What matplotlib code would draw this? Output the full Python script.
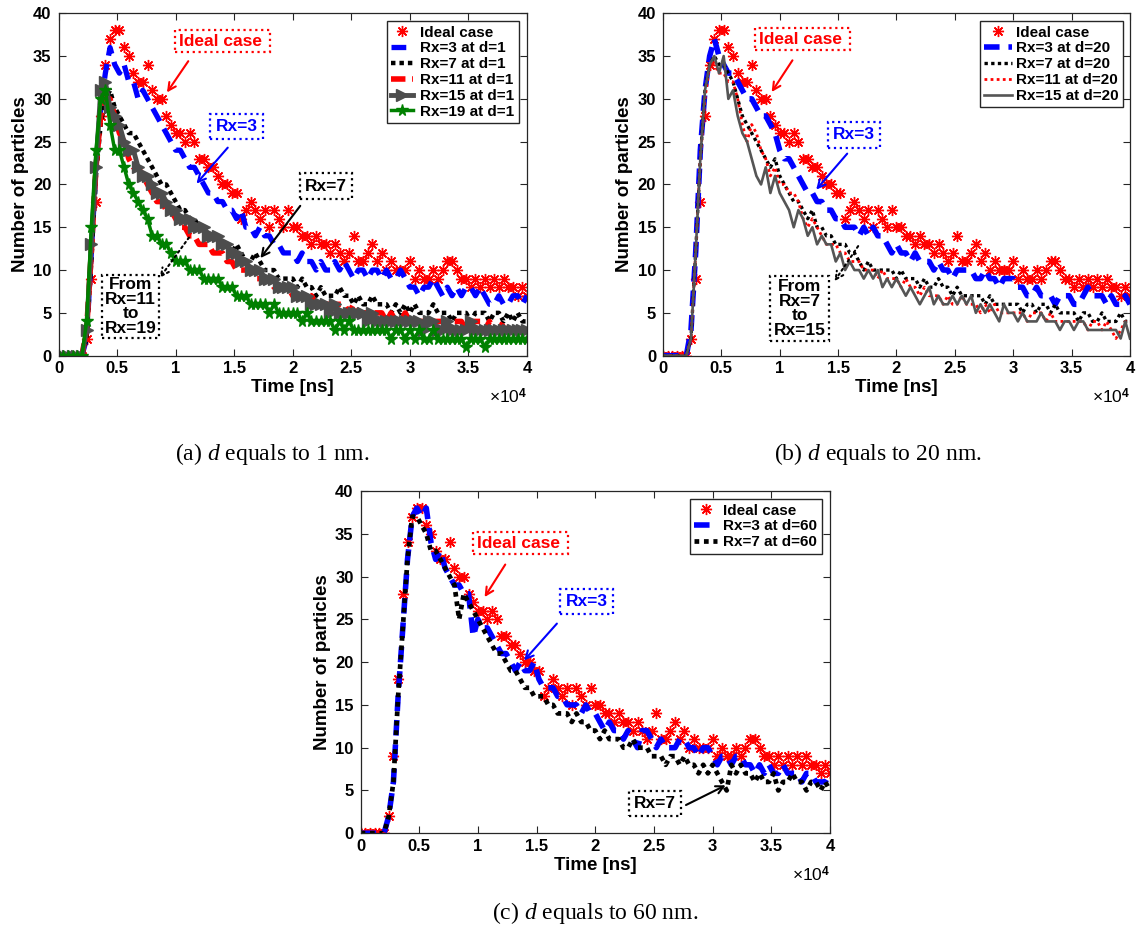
import numpy as np
import matplotlib.pyplot as plt

plt.rcParams['font.family'] = 'Liberation Sans'
plt.rcParams['mathtext.fontset'] = 'custom'
plt.rcParams['mathtext.rm'] = 'Liberation Sans:bold'
plt.rcParams['mathtext.bf'] = 'Liberation Sans:bold'
plt.rcParams['mathtext.it'] = 'Liberation Serif:italic'

# sampling instants (ns)
time_ns = np.arange(0, 40001, 400)

ideal = [0, 0, 0, 0, 0, 0, 2, 9, 18, 28,
         34, 37, 38, 38, 36, 35, 33, 32, 32, 34,
         31, 30, 30, 28, 27, 26, 26, 25, 26, 25,
         23, 23, 22, 22, 21, 20, 20, 19, 19, 16,
         17, 18, 17, 16, 17, 15, 17, 16, 15, 17,
         15, 15, 14, 14, 13, 14, 13, 13, 12, 13,
         12, 11, 12, 14, 11, 11, 12, 13, 11, 12,
         10, 11, 10, 10, 10, 11, 9, 10, 9, 9,
         10, 9, 10, 11, 11, 10, 9, 9, 8, 9,
         8, 9, 8, 9, 8, 9, 8, 8, 7, 8,
         7]

# d = 1 nm
d1_rx3 = [0, 0, 0, 0, 0, 0, 2, 12, 22, 29,
          33, 36, 34, 33, 34, 32, 32, 30, 31, 30,
          29, 28, 27, 26, 25, 24, 24, 23, 22, 22,
          21, 20, 19, 19, 18, 18, 17, 17, 16, 17,
          15, 15, 14, 15, 14, 14, 13, 13, 12, 12,
          12, 11, 12, 11, 11, 10, 11, 10, 10, 11,
          10, 11, 10, 9, 10, 10, 9, 10, 10, 9,
          10, 9, 9, 10, 9, 8, 8, 7, 8, 8,
          9, 8, 7, 8, 7, 8, 7, 8, 8, 7,
          8, 7, 6, 6, 7, 6, 6, 7, 7, 6,
          7]
d1_rx7 = [0, 0, 0, 0, 0, 0, 2, 11, 21, 27,
          30, 31, 29, 28, 27, 26, 26, 25, 24, 23,
          22, 21, 20, 20, 19, 18, 17, 17, 16, 16,
          15, 15, 14, 14, 14, 13, 13, 12, 13, 12,
          11, 11, 12, 11, 10, 10, 10, 9, 9, 9,
          9, 8, 9, 8, 8, 7, 8, 7, 7, 7,
          8, 7, 7, 6, 7, 6, 6, 7, 6, 6,
          6, 5, 6, 5, 6, 5, 6, 5, 5, 5,
          6, 5, 5, 5, 4, 5, 5, 5, 4, 5,
          5, 5, 4, 5, 5, 4, 5, 4, 5, 4,
          4]
d1_rx11 = [0, 0, 0, 0, 0, 0, 3, 12, 22, 28,
           30, 30, 28, 26, 25, 23, 22, 22, 21, 20,
           19, 18, 18, 17, 17, 16, 15, 15, 14, 14,
           13, 13, 13, 12, 12, 12, 11, 11, 10, 10,
           10, 10, 9, 9, 9, 9, 8, 8, 8, 8,
           7, 7, 7, 7, 7, 6, 6, 6, 6, 6,
           6, 6, 5, 6, 5, 5, 5, 5, 5, 5,
           4, 5, 4, 4, 5, 4, 4, 4, 4, 4,
           4, 4, 4, 4, 4, 4, 4, 3, 4, 4,
           4, 3, 4, 3, 3, 4, 3, 3, 3, 3,
           3]
d1_rx15 = [0, 0, 0, 0, 0, 0, 3, 13, 22, 31,
           32, 29, 28, 27, 25, 24, 24, 22, 21, 21,
           20, 19, 19, 18, 17, 17, 16, 16, 16, 15,
           15, 15, 14, 14, 14, 13, 13, 12, 12, 11,
           11, 10, 10, 10, 9, 9, 9, 8, 8, 8,
           8, 7, 7, 7, 6, 6, 6, 6, 5, 6,
           5, 5, 5, 5, 5, 5, 4, 5, 4, 4,
           4, 4, 4, 4, 4, 4, 4, 4, 3, 4,
           4, 3, 3, 4, 3, 3, 3, 3, 4, 3,
           3, 3, 3, 3, 3, 3, 3, 3, 3, 3,
           3]
d1_rx19 = [0, 0, 0, 0, 0, 0, 4, 15, 24, 30,
           31, 27, 24, 24, 22, 20, 19, 18, 17, 16,
           14, 14, 13, 13, 12, 11, 11, 11, 10, 10,
           10, 9, 9, 9, 9, 8, 8, 8, 7, 7,
           7, 6, 6, 6, 6, 5, 6, 5, 5, 5,
           5, 5, 4, 5, 4, 4, 4, 4, 4, 3,
           4, 3, 4, 3, 3, 3, 3, 3, 3, 3,
           3, 2, 3, 3, 2, 3, 2, 3, 2, 2,
           3, 2, 2, 2, 2, 2, 2, 1, 2, 2,
           2, 1, 2, 2, 2, 2, 2, 2, 2, 2,
           2]

# d = 20 nm
d20_rx3 = [0, 0, 0, 0, 0, 0, 3, 12, 24, 31,
           35, 37, 35, 34, 33, 33, 32, 31, 30, 30,
           29, 28, 28, 27, 26, 24, 23, 23, 22, 21,
           20, 19, 19, 18, 18, 17, 17, 16, 16, 15,
           15, 15, 14, 15, 14, 15, 14, 14, 13, 12,
           13, 12, 12, 11, 12, 11, 11, 11, 10, 11,
           10, 10, 9, 10, 10, 10, 10, 9, 9, 10,
           9, 9, 8, 9, 9, 9, 8, 8, 7, 7,
           8, 7, 7, 7, 6, 7, 7, 7, 6, 6,
           7, 8, 7, 7, 7, 6, 7, 6, 6, 7,
           6]
d20_rx7 = [0, 0, 0, 0, 0, 0, 2, 12, 23, 31,
           34, 35, 34, 34, 33, 32, 30, 28, 27, 26,
           25, 24, 23, 22, 23, 21, 20, 19, 18, 18,
           17, 16, 17, 15, 15, 14, 14, 13, 13, 13,
           12, 12, 11, 10, 11, 10, 10, 10, 10, 10,
           9, 10, 9, 9, 9, 8, 9, 8, 8, 9,
           8, 8, 7, 8, 7, 7, 7, 7, 7, 6,
           7, 6, 6, 6, 6, 6, 6, 5, 6, 6,
           5, 6, 6, 5, 6, 5, 5, 5, 5, 4,
           5, 5, 4, 4, 5, 4, 4, 4, 5, 4,
           4]
d20_rx11 = [0, 0, 0, 0, 0, 0, 2, 12, 23, 30,
            34, 34, 33, 33, 32, 32, 30, 27, 25, 27,
            26, 24, 23, 21, 22, 20, 20, 19, 19, 18,
            16, 15, 16, 15, 14, 13, 13, 13, 12, 12,
            11, 11, 11, 10, 10, 10, 9, 10, 9, 9,
            9, 8, 9, 8, 8, 7, 8, 7, 7, 7,
            6, 7, 6, 6, 7, 6, 6, 6, 5, 6,
            5, 6, 5, 5, 5, 5, 5, 5, 4, 5,
            5, 5, 4, 5, 4, 4, 4, 4, 4, 4,
            4, 3, 4, 4, 3, 4, 3, 2, 3, 4,
            4]
d20_rx15 = [0, 0, 0, 0, 0, 0, 2, 12, 23, 31,
            34, 35, 33, 35, 30, 31, 28, 26, 25, 23,
            21, 20, 22, 19, 21, 19, 18, 17, 15, 17,
            16, 14, 15, 13, 14, 13, 13, 11, 12, 10,
            11, 10, 10, 9, 10, 9, 10, 8, 9, 8,
            9, 8, 7, 8, 7, 6, 7, 8, 6, 7,
            6, 6, 7, 6, 7, 6, 7, 5, 6, 5,
            6, 5, 4, 6, 5, 5, 4, 5, 4, 4,
            4, 5, 4, 4, 4, 3, 4, 4, 3, 4,
            4, 3, 3, 3, 3, 3, 3, 3, 2, 4,
            2]

# d = 60 nm
d60_rx3 = [0, 0, 0, 0, 0, 0, 2, 6, 16, 24,
           32, 37, 38, 37, 38, 34, 32, 33, 31, 30,
           29, 29, 28, 28, 23, 25, 24, 24, 23, 22,
           21, 21, 20, 19, 20, 19, 19, 20, 18, 17,
           17, 17, 16, 16, 15, 15, 15, 14, 15, 14,
           14, 13, 12, 13, 12, 12, 11, 12, 11, 10,
           12, 12, 11, 10, 11, 10, 10, 10, 11, 11,
           10, 10, 9, 10, 10, 9, 8, 9, 9, 8,
           9, 9, 8, 8, 7, 8, 7, 8, 7, 7,
           8, 7, 7, 7, 6, 7, 7, 6, 6, 6,
           7]
d60_rx7 = [0, 0, 0, 0, 0, 0, 2, 6, 16, 24,
           32, 37, 37, 36, 35, 33, 33, 32, 31, 30,
           29, 25, 28, 27, 26, 25, 24, 23, 22, 21,
           21, 20, 19, 19, 18, 17, 17, 16, 16, 16,
           15, 15, 14, 14, 14, 13, 14, 13, 13, 12,
           12, 11, 12, 11, 11, 11, 10, 10, 11, 10,
           10, 10, 9, 9, 9, 8, 9, 9, 8, 9,
           8, 8, 7, 8, 7, 8, 7, 6, 5, 8,
           7, 8, 7, 7, 6, 7, 6, 6, 7, 5,
           6, 6, 7, 6, 6, 5, 6, 6, 5, 6,
           5]

xtick_pos = [0, 5000, 10000, 15000, 20000, 25000, 30000, 35000, 40000]
xtick_txt = ['0', '0.5', '1', '1.5', '2', '2.5', '3', '3.5', '4']

fig = plt.figure(figsize=(11.36, 9.33), dpi=100)
ax_a = fig.add_axes([0.0515, 0.6188, 0.4124, 0.367])
ax_b = fig.add_axes([0.5836, 0.6188, 0.4111, 0.367])
ax_c = fig.add_axes([0.3174, 0.1069, 0.4132, 0.3669])

star = (8, 2, 0)
leg_font = {'weight': 'bold', 'size': 11}


def base(ax):
    ax.set_xlim(0, 40000)
    ax.set_ylim(0, 40)
    ax.set_xticks(xtick_pos)
    ax.set_xticklabels(xtick_txt)
    ax.set_yticks(range(0, 41, 5))
    ax.tick_params(direction='in', top=True, right=True, length=5,
                   labelsize=12, color='#262626', width=0.8)
    ax.tick_params(axis='x', pad=4)
    ax.tick_params(axis='y', pad=5)
    for lab in ax.get_xticklabels() + ax.get_yticklabels():
        lab.set_fontweight('bold')
    for s in ax.spines.values():
        s.set_color('#262626')
        s.set_linewidth(0.9)
    ax.set_xlabel('Time [ns]', fontsize=13.5, fontweight='bold', labelpad=2)
    ax.set_ylabel('Number of particles', fontsize=13.5, fontweight='bold',
                  labelpad=3)
    ax.text(1.0, -0.12, '×10$^{4}$', transform=ax.transAxes, ha='right',
            va='center', fontsize=12.5)
    ax.plot(time_ns, ideal, ls='none', marker=star, ms=8, mew=1.0,
            color='red', label='Ideal case')


def tag(ax, text, x, y, color, pad=0.2, ls=1.0):
    ax.text(x, y, text, color=color, fontsize=12.5, fontweight='bold',
            ha='center', va='center', linespacing=ls, zorder=20,
            bbox=dict(boxstyle='square,pad=%s' % pad, fc='white', ec=color,
                      ls=':', lw=1.6))


def arrow(ax, tail, head, color, style='-'):
    ax.annotate('', xy=head, xytext=tail, zorder=20,
                arrowprops=dict(arrowstyle='->,head_length=0.55,head_width=0.28',
                                color=color, lw=1.5, linestyle=style,
                                shrinkA=0, shrinkB=0))


# (a) d = 1 nm
base(ax_a)
ax_a.plot(time_ns, d1_rx3, color='blue', lw=3.8, ls=(0, (2.8, 1.6)),
          label='Rx=3 at d=1')
ax_a.plot(time_ns, d1_rx7, color='black', lw=3.2, ls=(0, (1, 0.9)),
          label='Rx=7 at d=1')
ax_a.plot(time_ns, d1_rx11, color='red', lw=4, ls=(0, (2.6, 1.2)),
          label='Rx=11 at d=1')
ax_a.plot(time_ns, d1_rx15, color='#4d4d4d', lw=3.5, marker='>', ms=8.5,
          label='Rx=15 at d=1')
ax_a.plot(time_ns, d1_rx19, color='#008000', lw=2.5, marker='*', ms=8.5,
          label='Rx=19 at d=1')
ax_a.legend(loc='upper right', bbox_to_anchor=(0.983, 0.9775), borderaxespad=0,
            prop=leg_font, fancybox=False, edgecolor='#262626', framealpha=1,
            labelspacing=0.12, handlelength=1.45, handletextpad=0.45,
            borderpad=0.3)
tag(ax_a, 'Ideal case ', 14000, 36.75, 'red')
arrow(ax_a, (11080, 34.4), (9260, 30.75), 'red')
tag(ax_a, 'Rx=3', 15200, 26.75, 'blue', pad=0.3)
arrow(ax_a, (14450, 24.3), (11780, 20.1), 'blue')
tag(ax_a, 'Rx=7', 22840, 19.8, 'black', pad=0.3)
arrow(ax_a, (20640, 17.5), (17240, 11.4), 'black')
tag(ax_a, 'From\nRx=11\nto\nRx=19', 6160, 5.75, 'black', pad=0.15, ls=0.95)
arrow(ax_a, (11140, 13.8), (8650, 9.1), 'black', style=':')

# (b) d = 20 nm
base(ax_b)
ax_b.plot(time_ns, d20_rx3, color='blue', lw=4, ls=(0, (2.8, 1.6)),
          label='Rx=3 at d=20')
ax_b.plot(time_ns, d20_rx7, color='black', lw=2.4, ls=(0, (1, 1)),
          label='Rx=7 at d=20')
ax_b.plot(time_ns, d20_rx11, color='red', lw=2.0, ls=(0, (1, 1.2)),
          label='Rx=11 at d=20')
ax_b.plot(time_ns, d20_rx15, color='#555555', lw=1.9,
          label='Rx=15 at d=20')
ax_b.legend(loc='upper right', bbox_to_anchor=(0.985, 0.9775), borderaxespad=0,
            prop=leg_font, fancybox=False, edgecolor='#262626', framealpha=1,
            labelspacing=0.12, handlelength=1.8, handletextpad=0.25,
            borderpad=0.3)
tag(ax_b, 'Ideal case ', 11950, 36.95, 'red')
arrow(ax_b, (11090, 34.5), (9310, 30.8), 'red')
tag(ax_b, 'Rx=3', 16360, 25.8, 'blue', pad=0.3)
arrow(ax_b, (15780, 23.6), (13125, 19.4), 'blue')
tag(ax_b, 'From\nRx=7\nto\nRx=15', 11700, 5.5, 'black', pad=0.2, ls=0.95)
arrow(ax_b, (16720, 12.8), (14690, 8.7), 'black', style=':')

# (c) d = 60 nm
base(ax_c)
ax_c.plot(time_ns, d60_rx3, color='blue', lw=4, ls=(0, (2.8, 1.6)),
          label='Rx=3 at d=60')
ax_c.plot(time_ns, d60_rx7, color='black', lw=3.4, ls=(0, (1, 1)),
          label='Rx=7 at d=60')
ax_c.legend(loc='upper right', bbox_to_anchor=(0.983, 0.9766), borderaxespad=0,
            prop=leg_font, fancybox=False, edgecolor='#262626', framealpha=1,
            labelspacing=0.12, handlelength=1.5, handletextpad=0.4,
            borderpad=0.3)
tag(ax_c, 'Ideal case ', 13650, 33.9, 'red')
arrow(ax_c, (12330, 31.4), (10570, 27.6), 'red')
tag(ax_c, 'Rx=3', 19250, 27.1, 'blue', pad=0.3)
arrow(ax_c, (16730, 24.5), (13940, 20.2), 'blue')
tag(ax_c, 'Rx=7', 25100, 3.5, 'black', pad=0.3)
arrow(ax_c, (27730, 3.3), (31110, 5.6), 'black')

cap = dict(family='Liberation Serif', fontsize=17, ha='center', va='center')
fig.text(0.2394, 0.5134, '(a) $d$ equals to 1 nm.', **cap)
fig.text(0.7729, 0.5134, '(b) $d$ equals to 20 nm.', **cap)
fig.text(0.5238, 0.0214, '(c) $d$ equals to 60 nm.', **cap)

fig.savefig('out.png', dpi=100)
